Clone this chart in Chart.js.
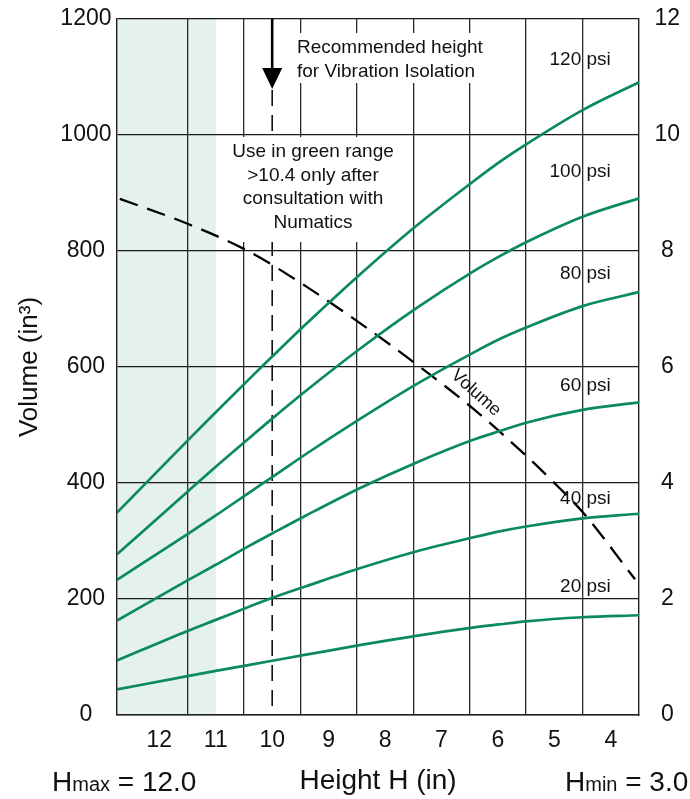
<!DOCTYPE html>
<html>
<head>
<meta charset="utf-8">
<script src="https://cdn.jsdelivr.net/npm/chart.js@4.4.0/dist/chart.umd.min.js"></script>
<style>
html,body{margin:0;padding:0;background:#fff;}
#wrap{width:690px;height:799px;position:relative;}
</style>
</head>
<body>
<div id="wrap"><canvas id="c"></canvas></div>
<script>
// ---- data ----
const heights = [12.75, 11.5, 11, 10.4, 10, 9.4, 8.45, 7.45, 6.45, 5.95, 5.5, 4.5, 3.5];
const psi120 = [349, 473, 522, 580, 618, 674, 759, 843, 919, 955, 984, 1043, 1091];
const psi100 = [277, 385, 428, 478, 511, 559, 631, 701, 764, 792, 815, 859, 891];
const psi80  = [233, 312, 344, 384, 410, 450, 510, 570, 624, 649, 668, 705, 729];
const psi60  = [163, 232, 259, 292, 313, 344, 391, 435, 474, 490, 504, 526, 539];
const psi40  = [94, 145, 164, 187, 202, 222, 253, 282, 306, 317, 325, 339, 347];
const psi20  = [44, 67, 76, 86.5, 93.5, 104, 120.5, 136.5, 150.5, 156.5, 161.5, 168.5, 172];
const volumeHeights = [12.7, 11.5, 10.43, 9.4, 8.42, 7.42, 6.45, 5.5, 5.02, 4.5, 3.57];
const volumeValues  = [890, 847, 800, 739, 674, 603, 529, 447, 402, 350, 234];
const pressureNames = ['120 psi', '100 psi', '80 psi', '60 psi', '40 psi', '20 psi'];
const xTickLabels = [12, 11, 10, 9, 8, 7, 6, 5, 4];
const xGridValues = [11.5, 10.5, 9.5, 8.5, 7.5, 6.5, 5.5, 4.5];
const leftTicks = [0, 200, 400, 600, 800, 1000, 1200];
const rightTicks = [0, 2, 4, 6, 8, 10, 12];
const recommendedHeight = 10;
const greenLimit = 11;
const hMaxText = '12.0';
const hMinText = '3.0';

// ---- build ----
const FONT = "'Liberation Sans', Arial, Helvetica, sans-serif";
Chart.defaults.font.family = FONT;
Chart.defaults.color = '#111';
const pts = (xs, ys) => xs.map((h, i) => ({x: h, y: ys[i]}));
const green = '#0b8a5c';
const series = [psi120, psi100, psi80, psi60, psi40, psi20];
const datasets = series.map((s, i) => ({
  label: pressureNames[i], data: pts(heights, s), borderColor: green, borderWidth: 2.7,
  pointRadius: 0, cubicInterpolationMode: 'monotone', fill: false, yAxisID: 'y'
}));
datasets.push({
  label: 'Volume', data: pts(volumeHeights, volumeValues), borderColor: '#000', borderWidth: 2.3,
  borderDash: [19, 10], pointRadius: 0, cubicInterpolationMode: 'monotone', fill: false, yAxisID: 'y'
});
const labelAnchors = [1129, 936, 760, 567, 372, 221]; // label heights in volume units

const annot = {
  id: 'annot',
  beforeDraw(chart) {
    const {ctx, chartArea: a, scales: {x}} = chart;
    const xg = x.getPixelForValue(greenLimit);
    ctx.save();
    ctx.fillStyle = '#e4f1ec';
    ctx.fillRect(a.left, a.top, xg - a.left, a.bottom - a.top);
    ctx.restore();
  },
  beforeDatasetsDraw(chart) {
    const {ctx, chartArea: a, scales: {x, y}} = chart;
    const xr = x.getPixelForValue(recommendedHeight);
    ctx.save();
    ctx.strokeStyle = '#111'; ctx.lineWidth = 1.6; ctx.setLineDash([16, 9]);
    ctx.beginPath(); ctx.moveTo(xr, 90); ctx.lineTo(xr, a.bottom); ctx.stroke();
    ctx.setLineDash([]);
    ctx.fillStyle = '#fff';
    ctx.fillRect(290, 33, 205, 50);
    ctx.fillRect(228, 137, 172, 105);
    ctx.strokeStyle = '#000'; ctx.fillStyle = '#000'; ctx.lineWidth = 2.6;
    ctx.beginPath(); ctx.moveTo(xr, a.top); ctx.lineTo(xr, 70); ctx.stroke();
    ctx.beginPath(); ctx.moveTo(xr - 10, 68); ctx.lineTo(xr + 10, 68); ctx.lineTo(xr, 89); ctx.closePath(); ctx.fill();
    ctx.fillStyle = '#111';
    ctx.font = '19px ' + FONT;
    ctx.textBaseline = 'alphabetic';
    ctx.textAlign = 'left';
    ctx.fillText('Recommended height', 297, 53);
    ctx.fillText('for Vibration Isolation', 297, 77);
    ctx.textAlign = 'center';
    ['Use in green range', '>10.4 only after', 'consultation with', 'Numatics'].forEach((t, i) => {
      ctx.fillText(t, 313, 157 + i * 23.5);
    });
    ctx.textAlign = 'right'; ctx.textBaseline = 'middle';
    const xl = x.getPixelForValue(4.0);
    pressureNames.forEach((n, i) => ctx.fillText(n, xl, y.getPixelForValue(labelAnchors[i])));
    ctx.save();
    ctx.translate(476, 393); ctx.rotate(42 * Math.PI / 180);
    ctx.textAlign = 'center'; ctx.font = '18px ' + FONT;
    ctx.fillText('Volume', 0, 0);
    ctx.restore();
    ctx.restore();
  },
  afterDraw(chart) {
    const {ctx} = chart;
    ctx.save();
    ctx.fillStyle = '#111'; ctx.textBaseline = 'alphabetic'; ctx.textAlign = 'left';
    const draw = (x0, sub, val) => {
      let xx = x0;
      ctx.font = '28px ' + FONT; ctx.fillText('H', xx, 791); xx += ctx.measureText('H').width;
      ctx.font = '20px ' + FONT; ctx.fillText(sub, xx, 791); xx += ctx.measureText(sub).width;
      ctx.font = '28px ' + FONT; ctx.fillText(' = ' + val, xx, 791);
    };
    draw(52, 'max', hMaxText);
    draw(565, 'min', hMinText);
    ctx.restore();
  }
};

const fixV = w => s => { s.width = w; s.paddingTop = 0; s.paddingBottom = 0; };

new Chart(document.getElementById('c'), {
  type: 'line',
  data: {datasets},
  plugins: [annot],
  options: {
    responsive: true, maintainAspectRatio: false, animation: false,
    layout: {padding: {top: 19, left: 0, right: 0, bottom: 0}},
    plugins: {legend: {display: false}, tooltip: {enabled: false}},
    scales: {
      x: {
        type: 'linear', reverse: true, min: 3.5, max: 12.75,
        afterBuildTicks: s => { s.ticks = xTickLabels.concat(xGridValues).sort((a, b) => a - b).map(v => ({value: v})); },
        afterFit: s => { s.height = 84; s.paddingLeft = 0; s.paddingRight = 0; },
        grid: {drawTicks: false, lineWidth: 1.3,
               color: c => (c.tick && Number.isInteger(c.tick.value)) ? 'rgba(0,0,0,0)' : '#2a2a2a'},
        border: {display: true, color: '#222', width: 1.4},
        ticks: {autoSkip: false, maxRotation: 0, padding: 12, font: {size: 23}, color: '#111',
                callback: v => Number.isInteger(v) ? String(v) : ''},
        title: {display: true, text: 'Height H (in)', font: {size: 28}, color: '#111', padding: {top: 0, bottom: 1}}
      },
      y: {
        position: 'left', min: 0, max: 1200,
        afterBuildTicks: s => { s.ticks = leftTicks.map(v => ({value: v})); },
        afterFit: fixV(117),
        grid: {drawTicks: false, lineWidth: 1.3, color: '#1a1a1a'},
        border: {display: true, color: '#222', width: 1.4},
        ticks: {padding: 5.5, crossAlign: 'center', font: {size: 23}, color: '#111', callback: v => String(v)},
        title: {display: true, text: 'Volume (in³)', font: {size: 26}, color: '#111', padding: {top: 14, bottom: 0}}
      },
      y2: {
        position: 'right', min: 0, max: 12,
        afterBuildTicks: s => { s.ticks = rightTicks.map(v => ({value: v})); },
        afterFit: fixV(51),
        grid: {display: false, drawTicks: false},
        border: {display: true, color: '#222', width: 1.4},
        ticks: {padding: 15.5, crossAlign: 'center', font: {size: 23}, color: '#111', callback: v => String(v)}
      }
    }
  }
});
</script>
</body>
</html>
